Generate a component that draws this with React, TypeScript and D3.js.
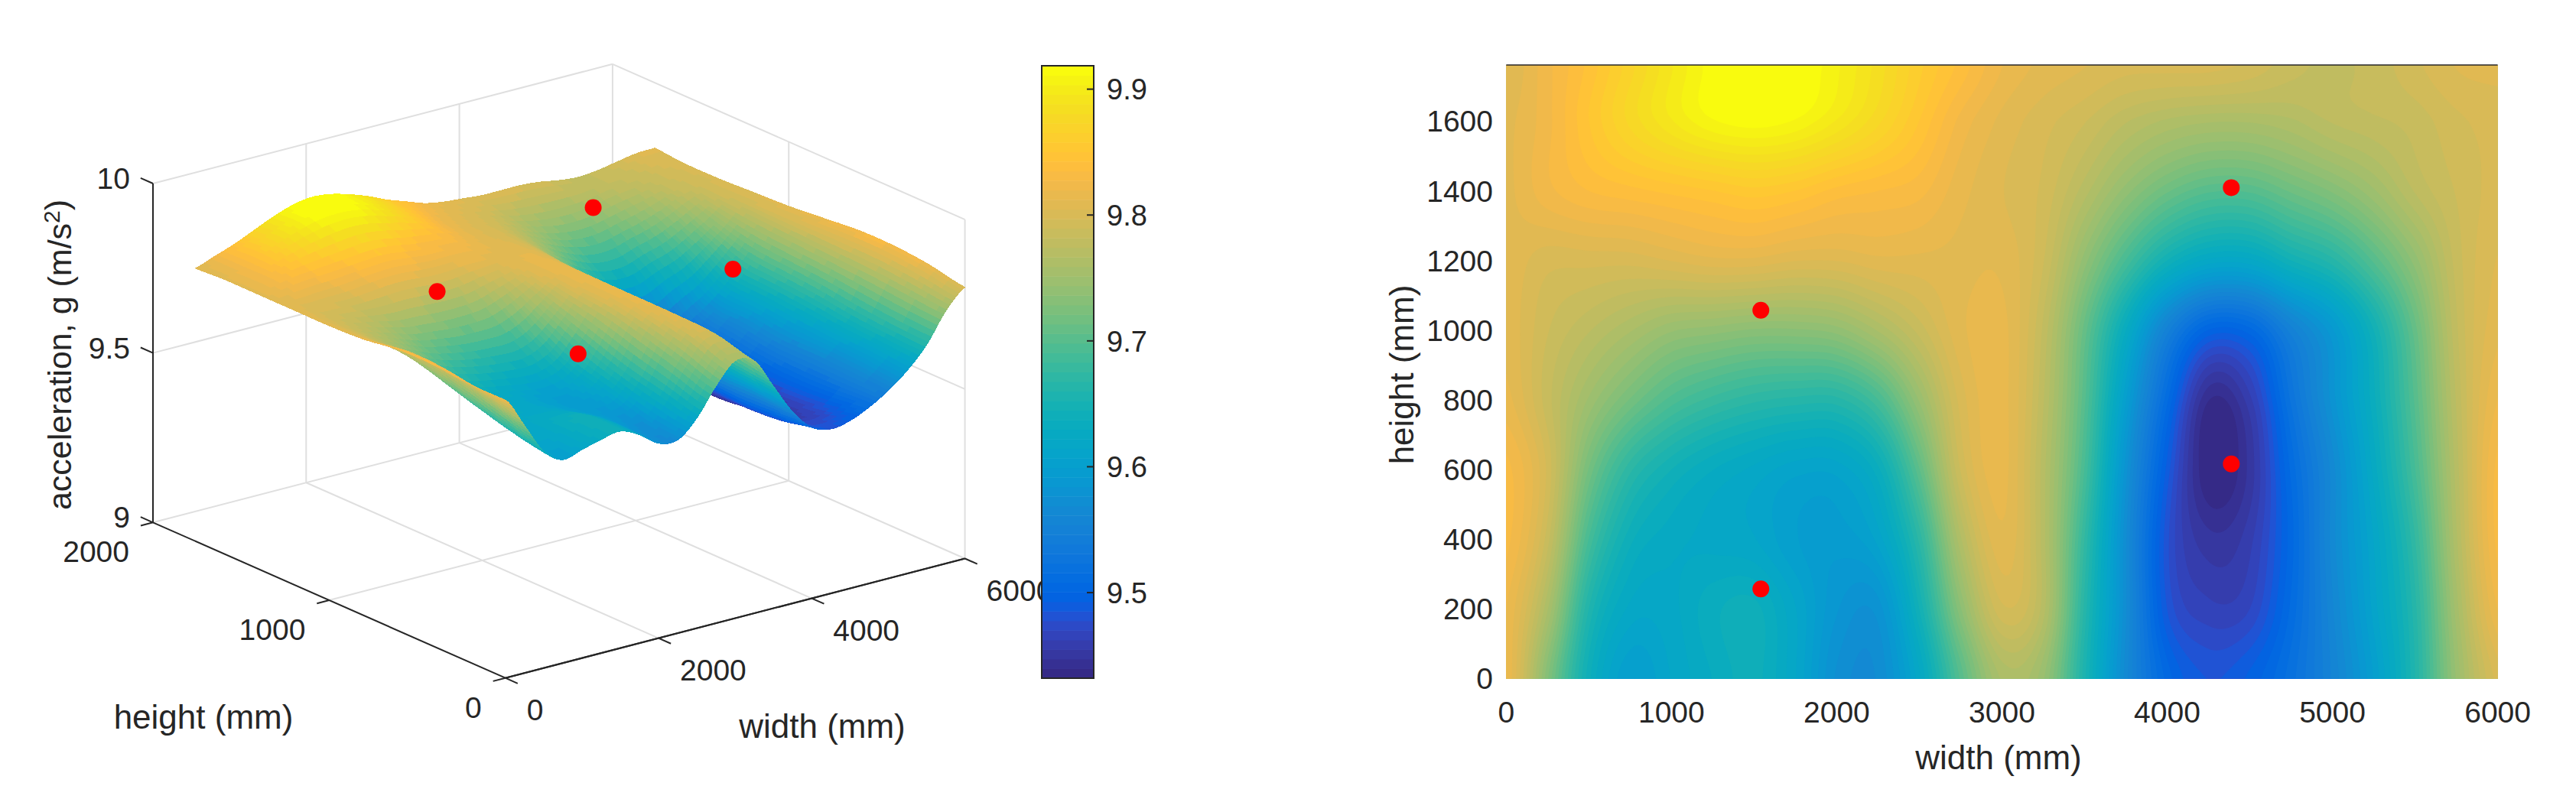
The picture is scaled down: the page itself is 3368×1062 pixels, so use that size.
import React, { useEffect, useRef } from 'react'
import * as d3 from 'd3'

// Sampled acceleration, one row per height (mm), one value per width (mm)
const widths = [0, 250, 500, 750, 1000, 1250, 1500, 1750, 2000, 2250, 2500, 2750, 3000, 3250, 3500, 3750, 4000, 4250, 4500, 4750, 5000, 5250, 5500, 5750, 6000]
const heights = [0, 200, 400, 600, 800, 1000, 1200, 1400, 1600, 1760]

const gH0 = [9.82, 9.73, 9.64, 9.6, 9.615, 9.63, 9.64, 9.615, 9.575, 9.57, 9.62, 9.7, 9.76, 9.745, 9.655, 9.565, 9.505, 9.485, 9.495, 9.52, 9.555, 9.6, 9.66, 9.745, 9.8]
const gH200 = [9.82, 9.76, 9.66, 9.62, 9.62, 9.635, 9.64, 9.615, 9.585, 9.58, 9.645, 9.735, 9.795, 9.77, 9.665, 9.57, 9.485, 9.465, 9.47, 9.51, 9.56, 9.61, 9.665, 9.755, 9.82]
const gH400 = [9.83, 9.785, 9.69, 9.64, 9.625, 9.62, 9.615, 9.6, 9.595, 9.61, 9.67, 9.765, 9.81, 9.77, 9.675, 9.57, 9.48, 9.45, 9.46, 9.505, 9.565, 9.615, 9.675, 9.765, 9.83]
const gH600 = [9.83, 9.795, 9.72, 9.67, 9.645, 9.63, 9.62, 9.61, 9.61, 9.635, 9.705, 9.79, 9.815, 9.77, 9.69, 9.58, 9.49, 9.432, 9.45, 9.51, 9.565, 9.625, 9.69, 9.77, 9.83]
const gH800 = [9.815, 9.785, 9.75, 9.72, 9.695, 9.68, 9.67, 9.665, 9.665, 9.69, 9.745, 9.8, 9.815, 9.775, 9.7, 9.6, 9.51, 9.44, 9.46, 9.525, 9.58, 9.635, 9.7, 9.775, 9.82]
const gH1000 = [9.81, 9.79, 9.775, 9.76, 9.745, 9.74, 9.735, 9.735, 9.74, 9.76, 9.785, 9.81, 9.815, 9.78, 9.71, 9.63, 9.55, 9.5, 9.505, 9.55, 9.59, 9.645, 9.71, 9.78, 9.81]
const gH1200 = [9.81, 9.8, 9.8, 9.8, 9.805, 9.81, 9.81, 9.805, 9.805, 9.81, 9.81, 9.81, 9.81, 9.79, 9.74, 9.69, 9.645, 9.62, 9.62, 9.645, 9.665, 9.7, 9.74, 9.785, 9.805]
const gH1400 = [9.81, 9.825, 9.835, 9.84, 9.845, 9.85, 9.855, 9.85, 9.84, 9.835, 9.83, 9.815, 9.805, 9.795, 9.77, 9.74, 9.715, 9.7, 9.7, 9.715, 9.73, 9.75, 9.775, 9.79, 9.8]
const gH1600 = [9.81, 9.825, 9.85, 9.875, 9.895, 9.91, 9.915, 9.91, 9.895, 9.875, 9.85, 9.825, 9.81, 9.8, 9.79, 9.775, 9.765, 9.76, 9.76, 9.765, 9.775, 9.78, 9.785, 9.795, 9.8]
const gH1760 = [9.805, 9.825, 9.845, 9.87, 9.895, 9.915, 9.925, 9.92, 9.905, 9.885, 9.86, 9.84, 9.82, 9.81, 9.805, 9.8, 9.8, 9.8, 9.795, 9.785, 9.78, 9.785, 9.795, 9.805, 9.807]
const gRows = [gH0, gH200, gH400, gH600, gH800, gH1000, gH1200, gH1400, gH1600, gH1760]

// Sensor positions
const pointW = [1541, 1541, 4388, 4388]
const pointH = [257, 1057, 616, 1409]
const pointG = [9.807, 9.807, 9.807, 9.807]

// Ticks
const widthTicks3d = [0, 2000, 4000, 6000]
const heightTicks3d = [0, 1000, 2000]
const gTicks3d = [9, 9.5, 10]
const colorbarTicks = [9.5, 9.6, 9.7, 9.8, 9.9]
const widthTicks2d = [0, 1000, 2000, 3000, 4000, 5000, 6000]
const heightTicks2d = [0, 200, 400, 600, 800, 1000, 1200, 1400, 1600]

// parula(64)
const parula = [
  [0.2081, 0.1663, 0.5292], [0.2116, 0.1898, 0.5777], [0.2123, 0.2138, 0.627], [0.2081, 0.2386, 0.6771],
  [0.1959, 0.2645, 0.7279], [0.1707, 0.2919, 0.7792], [0.1253, 0.3242, 0.8303], [0.0591, 0.3598, 0.8683],
  [0.0117, 0.3875, 0.882], [0.006, 0.4086, 0.8828], [0.0165, 0.4266, 0.8786], [0.0329, 0.443, 0.872],
  [0.0498, 0.4586, 0.8641], [0.0629, 0.4737, 0.8554], [0.0723, 0.4887, 0.8467], [0.0779, 0.504, 0.8384],
  [0.0793, 0.52, 0.8312], [0.0749, 0.5375, 0.8263], [0.0641, 0.557, 0.824], [0.0488, 0.5772, 0.8228],
  [0.0343, 0.5966, 0.8199], [0.0265, 0.6137, 0.8135], [0.0239, 0.6287, 0.8038], [0.0231, 0.6418, 0.7913],
  [0.0228, 0.6535, 0.7768], [0.0267, 0.6642, 0.7607], [0.0384, 0.6743, 0.7436], [0.059, 0.6838, 0.7254],
  [0.0843, 0.6928, 0.7062], [0.1133, 0.7015, 0.6859], [0.1453, 0.7098, 0.6646], [0.1801, 0.7177, 0.6424],
  [0.2178, 0.725, 0.6193], [0.2586, 0.7317, 0.5954], [0.3022, 0.7376, 0.5712], [0.3482, 0.7424, 0.5473],
  [0.3953, 0.7459, 0.5244], [0.442, 0.7481, 0.5033], [0.4871, 0.7491, 0.484], [0.53, 0.7491, 0.4661],
  [0.5709, 0.7485, 0.4494], [0.6099, 0.7473, 0.4337], [0.6473, 0.7456, 0.4188], [0.6834, 0.7435, 0.4044],
  [0.7184, 0.7411, 0.3905], [0.7525, 0.7384, 0.3768], [0.7858, 0.7356, 0.3633], [0.8185, 0.7327, 0.3498],
  [0.8507, 0.7299, 0.336], [0.8824, 0.7274, 0.3217], [0.9139, 0.7258, 0.3063], [0.945, 0.7261, 0.2886],
  [0.9739, 0.7314, 0.2666], [0.9938, 0.7455, 0.2403], [0.999, 0.7653, 0.2164], [0.9955, 0.7861, 0.1967],
  [0.988, 0.8066, 0.1794], [0.9789, 0.8271, 0.1633], [0.9697, 0.8481, 0.1475], [0.9626, 0.8705, 0.1309],
  [0.9589, 0.8949, 0.1132], [0.9598, 0.9218, 0.0948], [0.9661, 0.9514, 0.0755], [0.9763, 0.9831, 0.0538]
].map(c => d3.rgb(c[0] * 255, c[1] * 255, c[2] * 255).formatHex())

const gMin = 9.432
const gMax = 9.9186
const darkInk = '#262626'
const gridInk = '#dfdfdf'
const fontFamily = '"Liberation Sans", Arial, sans-serif'

// Catmull-Rom through the sampled rows, the same job as MATLAB's interp shading
function catmull(a: number, b: number, c: number, d: number, t: number) {
  return 0.5 * (2 * b + (c - a) * t + (2 * a - 5 * b + 4 * c - d) * t * t + (3 * b - a - 3 * c + d) * t * t * t)
}

const colOf = d3.scaleLinear().domain(widths).range(widths.map((d, i) => i)).clamp(true)
const rowOf = d3.scaleLinear().domain(heights).range(heights.map((d, i) => i)).clamp(true)

function sampleG(w: number, h: number) {
  const cx = colOf(w)
  const cy = rowOf(h)
  const i = Math.min(Math.floor(cx), widths.length - 2)
  const j = Math.min(Math.floor(cy), heights.length - 2)
  const at = (r: number, c: number) =>
    gRows[Math.max(0, Math.min(heights.length - 1, r))][Math.max(0, Math.min(widths.length - 1, c))]
  const along = (r: number) => catmull(at(r, i - 1), at(r, i), at(r, i + 1), at(r, i + 2), cx - i)
  return catmull(along(j - 1), along(j), along(j + 1), along(j + 2), cy - j)
}

export default function App() {
  const svgRef = useRef<SVGSVGElement | null>(null)

  useEffect(() => {
    const svg = d3.select(svgRef.current)
    svg.selectAll('*').remove()

    const color = d3.scaleQuantize<string>().domain([gMin, gMax]).range(parula)

    const label = (
      x: number,
      y: number,
      text: string,
      size: number,
      anchor = 'middle'
    ) =>
      svg
        .append('text')
        .attr('x', x)
        .attr('y', y)
        .attr('dy', '0.36em')
        .attr('text-anchor', anchor)
        .attr('font-family', fontFamily)
        .attr('font-size', size)
        .attr('fill', darkInk)
        .text(text)

    // ---------- 3D surface ----------
    const wX = d3.scaleLinear().domain([0, 6000]).range([0, 600.9])
    const wY = d3.scaleLinear().domain([0, 6000]).range([0, -156.2])
    const hX = d3.scaleLinear().domain([0, 2000]).range([0, -460.7])
    const hY = d3.scaleLinear().domain([0, 2000]).range([0, -203.4])
    const gY = d3.scaleLinear().domain([9, 10]).range([0, -443.3])
    const project = (w: number, h: number, g: number): [number, number] => [
      660.7 + wX(w) + hX(h),
      886.7 + wY(w) + hY(h) + gY(g)
    ]

    const edge = (a: [number, number, number], b: [number, number, number], ink: string, width = 2) => {
      const p = project(a[0], a[1], a[2])
      const q = project(b[0], b[1], b[2])
      svg
        .append('line')
        .attr('x1', p[0])
        .attr('y1', p[1])
        .attr('x2', q[0])
        .attr('y2', q[1])
        .attr('stroke', ink)
        .attr('stroke-width', width)
    }

    // walls and floor
    gTicks3d.forEach(g => {
      edge([0, 2000, g], [6000, 2000, g], gridInk)
      edge([6000, 2000, g], [6000, 0, g], gridInk)
    })
    widthTicks3d.slice(1).forEach(w => {
      edge([w, 2000, 9], [w, 2000, 10], gridInk)
      if (w < 6000) edge([w, 0, 9], [w, 2000, 9], gridInk)
    })
    heightTicks3d.slice(0, 2).forEach(h => {
      edge([6000, h, 9], [6000, h, 10], gridInk)
      edge([0, h, 9], [6000, h, 9], h === 0 ? darkInk : gridInk)
    })

    // axis lines and ticks
    edge([0, 0, 9], [6000, 0, 9], darkInk)
    edge([0, 0, 9], [0, 2000, 9], darkInk)
    edge([0, 2000, 9], [0, 2000, 10], darkInk)
    widthTicks3d.forEach(w => edge([w, 0, 9], [w, -70, 9], darkInk))
    heightTicks3d.forEach(h => edge([0, h, 9], [-160, h, 9], darkInk))
    gTicks3d.forEach(g => edge([0, 2000, g], [0, 2070, g], darkInk))

    // surface quads, far corner first
    const stepW = 40
    const stepH = 40
    const meshW = d3.range(0, 6000 + stepW, stepW)
    const meshH = d3.range(0, 1760 + stepH, stepH)
    const gMesh = meshH.map(h => meshW.map(w => sampleG(w, h)))
    const quads: { path: string; fill: string }[] = []
    for (let i = meshW.length - 2; i >= 0; i--) {
      for (let j = meshH.length - 2; j >= 0; j--) {
        const a = gMesh[j][i]
        const b = gMesh[j][i + 1]
        const c = gMesh[j + 1][i + 1]
        const d = gMesh[j + 1][i]
        const line = d3.line()
        quads.push({
          path:
            line([
              project(meshW[i], meshH[j], a),
              project(meshW[i + 1], meshH[j], b),
              project(meshW[i + 1], meshH[j + 1], c),
              project(meshW[i], meshH[j + 1], d)
            ]) + 'Z',
          fill: color((a + b + c + d) / 4)
        })
      }
    }
    svg
      .append('g')
      .attr('stroke-width', 1)
      .attr('stroke-linejoin', 'round')
      .attr('shape-rendering', 'crispEdges')
      .selectAll('path')
      .data(quads)
      .enter()
      .append('path')
      .attr('d', d => d.path)
      .attr('fill', d => d.fill)
      .attr('stroke', d => d.fill)

    // markers
    svg
      .append('g')
      .selectAll('circle')
      .data(pointW.map((w, i) => project(w, pointH[i], pointG[i])))
      .enter()
      .append('circle')
      .attr('cx', d => d[0])
      .attr('cy', d => d[1])
      .attr('r', 11)
      .attr('fill', '#ff0000')

    // tick labels, 3D
    gTicks3d.forEach(g => {
      const p = project(0, 2000, g)
      label(p[0] - 30, p[1] - 7, String(g), 39, 'end')
    })
    heightTicks3d.forEach(h => {
      const p = project(0, h, 9)
      label(p[0] - 31, p[1] + 38, String(h), 39, 'end')
    })
    widthTicks3d.forEach(w => {
      const p = project(w, 0, 9)
      label(p[0] + 28, p[1] + 41, String(w), 39, 'start')
    })
    label(266, 937, 'height (mm)', 44)
    label(1075, 949, 'width (mm)', 44)

    const zLabel = svg
      .append('text')
      .attr('transform', 'translate(78,464) rotate(-90)')
      .attr('dy', '0.36em')
      .attr('text-anchor', 'middle')
      .attr('font-family', fontFamily)
      .attr('font-size', 43)
      .attr('fill', darkInk)
    zLabel.append('tspan').text('acceleration, g (m/s')
    zLabel.append('tspan').attr('font-size', 30).attr('dy', '-0.5em').text('2')
    zLabel.append('tspan').attr('dy', '0.24em').text(')')

    // ---------- colorbar ----------
    const barX = 1362
    const barW = 68
    const barY = d3.scaleLinear().domain([gMin, gMax]).range([887, 86])
    svg
      .append('rect')
      .attr('x', barX)
      .attr('y', 86)
      .attr('width', barW)
      .attr('height', 801)
      .attr('fill', '#ffffff')
    svg
      .append('g')
      .selectAll('rect')
      .data(parula)
      .enter()
      .append('rect')
      .attr('x', barX)
      .attr('width', barW)
      .attr('y', (d, i) => barY(gMin + ((i + 1) * (gMax - gMin)) / parula.length))
      .attr('height', 801 / parula.length + 0.5)
      .attr('fill', d => d)
    svg
      .append('rect')
      .attr('x', barX)
      .attr('y', 86)
      .attr('width', barW)
      .attr('height', 801)
      .attr('fill', 'none')
      .attr('stroke', darkInk)
      .attr('stroke-width', 2)
    colorbarTicks.forEach(t => {
      svg
        .append('line')
        .attr('x1', barX + barW - 9)
        .attr('x2', barX + barW)
        .attr('y1', barY(t))
        .attr('y2', barY(t))
        .attr('stroke', darkInk)
        .attr('stroke-width', 2)
      label(barX + barW + 17, barY(t), d3.format('.1f')(t), 38, 'start')
    })

    // ---------- 2D map ----------
    const x2 = d3.scaleLinear().domain([0, 6000]).range([1969.3, 3265.6])
    const y2 = d3.scaleLinear().domain([0, 1761]).range([887.4, 85])

    svg
      .append('clipPath')
      .attr('id', 'mapClip')
      .append('rect')
      .attr('x', x2(0))
      .attr('y', y2(1761))
      .attr('width', x2(6000) - x2(0))
      .attr('height', y2(0) - y2(1761))

    const cellW = 20
    const cellH = 20
    const nx = 6000 / cellW + 1
    const ny = 1760 / cellH + 1
    const values: number[] = []
    for (let j = 0; j < ny; j++) for (let i = 0; i < nx; i++) values.push(sampleG(i * cellW, j * cellH))
    const bands = color.thresholds()
    const contours = d3.contours().size([nx, ny]).thresholds(bands)(values)
    const toPlot = d3.geoTransform({
      point(px: number, py: number) {
        ;(this as any).stream.point(x2((px - 0.5) * cellW), y2((py - 0.5) * cellH))
      }
    })
    const map = svg.append('g').attr('clip-path', 'url(#mapClip)')
    map
      .append('rect')
      .attr('x', x2(0))
      .attr('y', y2(1761))
      .attr('width', x2(6000) - x2(0))
      .attr('height', y2(0) - y2(1761))
      .attr('fill', parula[0])
    map
      .selectAll('path')
      .data(contours)
      .enter()
      .append('path')
      .attr('d', d3.geoPath(toPlot) as any)
      .attr('fill', (d, i) => parula[i + 1])
    svg
      .append('line')
      .attr('x1', x2(0))
      .attr('x2', x2(6000))
      .attr('y1', 85)
      .attr('y2', 85)
      .attr('stroke', darkInk)
      .attr('stroke-width', 1.5)

    svg
      .append('g')
      .selectAll('circle')
      .data(pointW)
      .enter()
      .append('circle')
      .attr('cx', d => x2(d))
      .attr('cy', (d, i) => y2(pointH[i]))
      .attr('r', 11)
      .attr('fill', '#ff0000')

    widthTicks2d.forEach(w => label(x2(w), 931, String(w), 39))
    heightTicks2d.forEach(h => label(1952, y2(h), String(h), 39, 'end'))
    label(2613, 990, 'width (mm)', 44)
    svg
      .append('text')
      .attr('transform', 'translate(1832,490) rotate(-90)')
      .attr('dy', '0.36em')
      .attr('text-anchor', 'middle')
      .attr('font-family', fontFamily)
      .attr('font-size', 44)
      .attr('fill', darkInk)
      .text('height (mm)')
  }, [])

  return (
    <svg
      ref={svgRef}
      width={3368}
      height={1062}
      style={{ position: 'absolute', left: 0, top: 0, display: 'block', background: '#ffffff' }}
    />
  )
}
